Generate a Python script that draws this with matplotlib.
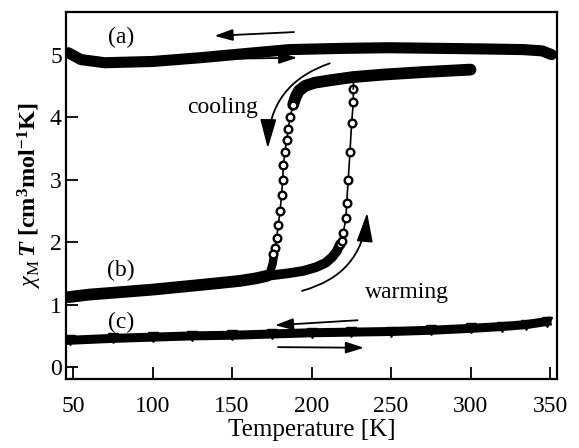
import matplotlib
matplotlib.use("Agg")
import matplotlib.pyplot as plt

plt.rcParams['font.family'] = ['Liberation Serif', 'DejaVu Serif']
plt.rcParams['mathtext.fontset'] = 'custom'
plt.rcParams['mathtext.rm'] = 'Liberation Serif'
plt.rcParams['mathtext.it'] = 'Liberation Serif:italic'
plt.rcParams['mathtext.bf'] = 'Liberation Serif:bold'
plt.rcParams['mathtext.bfit'] = 'Liberation Serif:italic:bold'

# (a) flat high-spin curve
a_T = [47, 55, 70, 100, 130, 160, 186, 220, 249, 280, 310, 333, 345, 351]
a_v = [5.03, 4.92, 4.87, 4.89, 4.95, 5.02, 5.08, 5.1, 5.11, 5.1, 5.09, 5.08, 5.06, 5.0]

# (b) low-spin plateau (shared by both branches)
low_T = [47, 60, 80, 100, 120, 140, 155, 165, 172]
low_v = [1.12, 1.16, 1.2, 1.24, 1.29, 1.34, 1.38, 1.42, 1.46]
# corner on the cooling side
cool_corner_T = [172, 174, 175.5, 176.5]
cool_corner_v = [1.46, 1.52, 1.65, 1.8]
# warming side low branch
warm_low_T = [172, 185, 195, 203, 209, 213, 216, 218]
warm_low_v = [1.46, 1.5, 1.54, 1.6, 1.67, 1.76, 1.86, 1.97]
# high-spin plateau
high_T = [300, 270, 245, 226, 212, 202, 196, 192, 190, 188.5]
high_v = [4.76, 4.72, 4.68, 4.64, 4.59, 4.55, 4.5, 4.42, 4.32, 4.2]

# transition points (open circles)
cool_T = [188.4, 186.5, 185.4, 184.4, 183.3, 182.3, 181.9, 181.2, 180.2, 179.1, 178.1, 177.0, 175.9]
cool_v = [4.19, 4.0, 3.81, 3.63, 3.44, 3.23, 3.0, 2.76, 2.49, 2.28, 2.07, 1.91, 1.81]
warm_T = [218.0, 219.0, 220.0, 221.7, 222.1, 223.1, 224.2, 225.2, 226.3, 226.3, 226.5]
warm_v = [1.97, 2.02, 2.15, 2.39, 2.62, 3.0, 3.44, 3.9, 4.24, 4.45, 4.6]

# (c) low-spin complex
c_T = [48, 75, 100, 125, 150, 175, 200, 225, 250, 275, 300, 320, 335, 348]
c_v = [0.43, 0.46, 0.48, 0.5, 0.51, 0.53, 0.55, 0.56, 0.57, 0.59, 0.62, 0.65, 0.68, 0.73]

fig = plt.figure(figsize=(5.79, 4.48), dpi=100)
ax = fig.add_axes([0.114, 0.154, 0.848, 0.819])

ax.plot(a_T, a_v, color='black', lw=8, solid_capstyle='round', solid_joinstyle='round')

ax.plot(low_T, low_v, color='black', lw=8.5, solid_capstyle='round', solid_joinstyle='round')
ax.plot(cool_corner_T, cool_corner_v, color='black', lw=6, solid_capstyle='round')
ax.plot(warm_low_T, warm_low_v, color='black', lw=7, solid_capstyle='round', solid_joinstyle='round')
ax.plot(high_T, high_v, color='black', lw=8.5, solid_capstyle='round', solid_joinstyle='round')

ax.plot(cool_T, cool_v, color='black', lw=1.2, marker='o', ms=5.5, mfc='white', mec='black', mew=1.7)
ax.plot(warm_T[:-1], warm_v[:-1], color='black', lw=1.2, marker='o', ms=5.5, mfc='white', mec='black', mew=1.7)
ax.plot(warm_T[-2:], warm_v[-2:], color='black', lw=1.2)

ax.plot(c_T, c_v, color='black', lw=6.5)
ax.plot(c_T, c_v, color='black', lw=0, marker='v', ms=7)

arrow_kw = dict(arrowstyle='-|>,head_length=1.1,head_width=0.35', color='black', lw=1.3,
                shrinkA=0, shrinkB=0)
big_kw = dict(arrowstyle='-|>,head_length=1.8,head_width=0.5', color='black', lw=1.3,
              shrinkA=0, shrinkB=0)

# (a) arrows
ax.annotate('', xy=(139, 5.3), xytext=(189, 5.36), arrowprops=arrow_kw)
ax.annotate('', xy=(191, 4.95), xytext=(138, 4.93), arrowprops=arrow_kw)
# (c) arrows
ax.annotate('', xy=(177, 0.67), xytext=(229, 0.75), arrowprops=arrow_kw)
ax.annotate('', xy=(233, 0.31), xytext=(179, 0.32), arrowprops=arrow_kw)
# cooling / warming
ax.annotate('', xy=(172.5, 3.5), xytext=(211.5, 4.86),
            arrowprops=dict(connectionstyle='arc3,rad=0.35', **big_kw))
ax.annotate('', xy=(235, 2.47), xytext=(194, 1.22),
            arrowprops=dict(connectionstyle='arc3,rad=0.35', **big_kw))

ax.text(80, 5.28, '(a)', fontsize=17, ha='center', va='center')
ax.text(80, 1.54, '(b)', fontsize=17, ha='center', va='center')
ax.text(80, 0.72, '(c)', fontsize=17, ha='center', va='center')
ax.text(144, 4.16, 'cooling', fontsize=17, ha='center', va='center')
ax.text(260, 1.2, 'warming', fontsize=17, ha='center', va='center')

ax.set_xlim(45.6, 354.4)
ax.set_ylim(-0.19, 5.68)
ax.set_xticks([50, 100, 150, 200, 250, 300, 350])
ax.set_yticks([0, 1, 2, 3, 4, 5])
ax.tick_params(direction='in', length=8.5, width=1.3, labelsize=17,
               top=False, right=False)
ax.tick_params(axis='x', pad=12)
ax.tick_params(axis='y', pad=3)
for s in ax.spines.values():
    s.set_linewidth(1.6)

ax.set_xlabel('Temperature [K]', fontsize=18, labelpad=2)
ax.set_ylabel(r'$\chi_\mathrm{M}\,\mathbfit{T}$ $\mathbf{[cm^3mol^{-1}K]}$', fontsize=17.5, labelpad=4)

fig.savefig('out.png', dpi=100)
